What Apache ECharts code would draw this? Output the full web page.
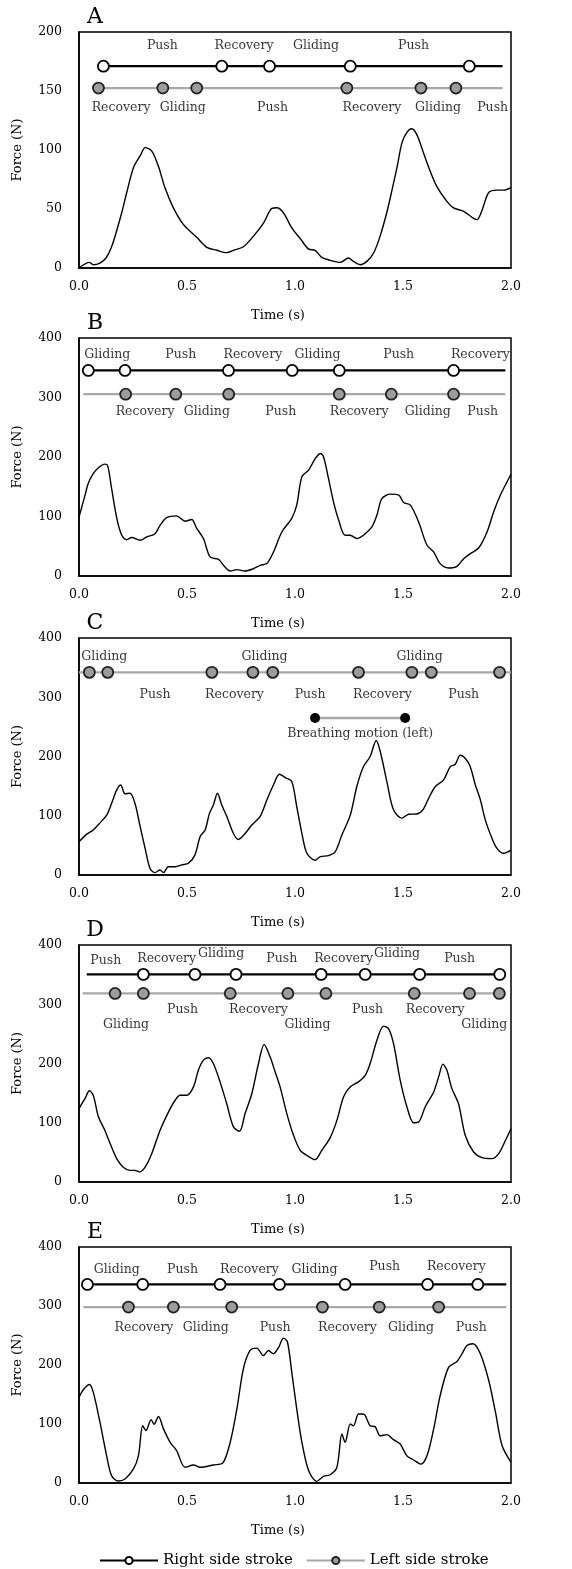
<!DOCTYPE html>
<html>
<head>
<meta charset="utf-8">
<script src="https://cdn.jsdelivr.net/npm/echarts@6/dist/echarts.min.js"></script>
<style>html,body{margin:0;padding:0;background:#fff}#main{width:572px;height:1569px}</style>
</head>
<body>
<div id="main"></div>
<script>
// ---- force traces: time (s) / force (N) ----
var tA = [0, 0.048, 0.066, 0.097, 0.125, 0.151, 0.175, 0.198, 0.221, 0.252, 0.283, 0.306, 0.337, 0.368, 0.398, 0.437, 0.483, 0.545, 0.592, 0.638, 0.684, 0.715, 0.761, 0.808, 0.854, 0.893, 0.916, 0.947, 0.985, 1.024, 1.063, 1.093, 1.124, 1.163, 1.209, 1.248, 1.271, 1.302, 1.333, 1.364, 1.394, 1.425, 1.449, 1.472, 1.495, 1.518, 1.541, 1.564, 1.595, 1.626, 1.657, 1.703, 1.734, 1.781, 1.827, 1.843, 1.866, 1.897, 1.935, 1.966, 2.0];
var fA = [0, 4.8, 2.8, 4.2, 8.5, 18, 32, 47, 64, 85, 95, 102, 99, 86, 68, 51, 37, 26, 17.5, 15, 13, 15, 18, 27, 38, 50.5, 51, 46.6, 34, 25, 16, 15, 9, 6.5, 4.8, 8.5, 5.6, 2.8, 5.6, 12.7, 27, 47, 66, 85, 106, 115, 118, 113, 97.5, 82, 69, 56.5, 51, 48, 42, 41, 49, 64, 66, 66, 68];

var tB = [0, 0.028, 0.043, 0.066, 0.090, 0.12, 0.133, 0.151, 0.175, 0.198, 0.221, 0.244, 0.283, 0.314, 0.352, 0.375, 0.406, 0.452, 0.491, 0.522, 0.545, 0.576, 0.607, 0.646, 0.669, 0.700, 0.731, 0.769, 0.808, 0.839, 0.87, 0.90, 0.939, 0.985, 1.008, 1.032, 1.063, 1.093, 1.117, 1.132, 1.155, 1.178, 1.202, 1.232, 1.256, 1.286, 1.317, 1.356, 1.379, 1.402, 1.441, 1.48, 1.503, 1.534, 1.572, 1.611, 1.642, 1.672, 1.711, 1.750, 1.781, 1.812, 1.850, 1.889, 1.920, 1.951, 2.0];
var fB = [99, 136, 156, 172, 182, 188, 185, 147, 97, 68.5, 61, 64.6, 60, 65.7, 71, 85, 98, 101, 92, 95, 80, 63, 32, 28, 18, 8.4, 10.7, 8.4, 12.4, 18, 21, 40, 74, 97, 119, 167, 178, 197, 206, 200.5, 164, 125, 94, 68.5, 68.5, 63, 68.5, 82.6, 102, 130, 137.6, 136, 123.6, 119, 91, 51.7, 40.4, 20.8, 13.5, 16.3, 29, 37.6, 47, 74, 108, 136, 171];

var tC = [0, 0.036, 0.066, 0.097, 0.128, 0.151, 0.175, 0.193, 0.213, 0.236, 0.259, 0.283, 0.306, 0.329, 0.352, 0.375, 0.391, 0.414, 0.445, 0.476, 0.507, 0.537, 0.561, 0.584, 0.604, 0.622, 0.641, 0.661, 0.684, 0.715, 0.738, 0.769, 0.800, 0.839, 0.87, 0.90, 0.928, 0.955, 0.985, 1.008, 1.032, 1.055, 1.093, 1.117, 1.155, 1.186, 1.217, 1.256, 1.286, 1.317, 1.348, 1.376, 1.395, 1.425, 1.456, 1.495, 1.526, 1.564, 1.592, 1.619, 1.649, 1.688, 1.719, 1.742, 1.765, 1.788, 1.811, 1.835, 1.858, 1.881, 1.912, 1.935, 1.966, 2.0];
var fC = [56, 69, 76, 88, 101, 121, 144, 152, 137, 138, 121, 82, 45, 11, 4, 8.5, 4, 14, 14, 17, 20, 34, 65, 76, 104, 118, 138, 118, 99, 70, 60, 70, 84.5, 99, 127, 152, 170, 164.5, 158, 115.5, 70, 36.6, 25, 31, 32.7, 39, 67.6, 101, 149, 183, 200, 227, 208, 158, 110, 96, 102.5, 103, 110, 129.6, 149, 160.6, 183, 187, 202, 197, 183, 152, 127, 93, 62, 45, 36.6, 42];

var tD = [0, 0.028, 0.048, 0.066, 0.090, 0.120, 0.144, 0.175, 0.205, 0.236, 0.259, 0.28, 0.306, 0.337, 0.375, 0.414, 0.445, 0.468, 0.499, 0.530, 0.553, 0.576, 0.599, 0.622, 0.653, 0.684, 0.715, 0.743, 0.769, 0.8, 0.831, 0.857, 0.885, 0.908, 0.931, 0.962, 0.993, 1.024, 1.055, 1.093, 1.124, 1.163, 1.194, 1.225, 1.256, 1.294, 1.325, 1.348, 1.379, 1.41, 1.433, 1.456, 1.487, 1.518, 1.549, 1.572, 1.603, 1.642, 1.665, 1.685, 1.703, 1.726, 1.757, 1.788, 1.827, 1.866, 1.912, 1.943, 1.974, 2.0];
var fD = [124, 141, 154, 146.5, 110, 87, 65, 39, 25, 19.7, 19.7, 17, 25, 48, 87, 118, 138, 146.5, 146.5, 160.6, 189, 205.6, 209.6, 200, 169, 132, 93, 85.6, 115.5, 149, 200, 232, 211, 186, 160.6, 115.5, 79, 53.5, 45, 37.7, 53.5, 75, 104, 143.7, 160.6, 169, 180, 200, 239, 263, 259, 234, 172, 127, 100, 101, 127, 152, 177.5, 199, 189, 158, 132, 79, 50.7, 41, 39.4, 48, 70, 90];

var tE = [0, 0.02, 0.048, 0.066, 0.097, 0.128, 0.151, 0.182, 0.213, 0.252, 0.275, 0.295, 0.31, 0.334, 0.347, 0.368, 0.391, 0.422, 0.452, 0.491, 0.53, 0.561, 0.622, 0.666, 0.70, 0.731, 0.761, 0.792, 0.823, 0.854, 0.877, 0.90, 0.924, 0.947, 0.965, 0.985, 1.008, 1.032, 1.063, 1.101, 1.132, 1.163, 1.194, 1.217, 1.232, 1.256, 1.271, 1.294, 1.317, 1.348, 1.371, 1.394, 1.425, 1.456, 1.487, 1.518, 1.549, 1.583, 1.611, 1.642, 1.672, 1.711, 1.750, 1.773, 1.796, 1.824, 1.858, 1.897, 1.928, 1.959, 2.0];
var fE = [145, 158, 167, 154, 103, 46, 12.4, 3.4, 6.8, 23.8, 46, 97, 89, 107.5, 99.6, 112.6, 91.7, 69, 55, 26.6, 30.6, 26.6, 30.6, 34, 69, 125.6, 193.5, 224.6, 228.6, 216, 224.6, 219, 230, 245.5, 239, 188, 125.6, 69, 21, 2.8, 11.3, 14, 26.6, 83, 69, 100, 97, 117, 117, 97, 95.6, 80, 82, 73.5, 66, 46, 39, 32, 46, 91.7, 148, 196, 206, 219, 233, 236, 219, 173.7, 120, 63, 35];

// ---- stroke events (s) ----
var rightA = [0.113, 0.661, 0.882, 1.256, 1.807];
var leftA = [0.09, 0.388, 0.545, 1.240, 1.583, 1.745];
var rightB = [0.043, 0.213, 0.692, 0.987, 1.205, 1.734];
var leftB = [0.216, 0.448, 0.693, 1.205, 1.446, 1.734];
var leftC = [0.048, 0.133, 0.615, 0.805, 0.897, 1.294, 1.541, 1.631, 1.947];
var breathC = [1.093, 1.510];
var rightD = [0.298, 0.537, 0.727, 1.121, 1.325, 1.577, 1.948];
var leftD = [0.167, 0.298, 0.70, 0.967, 1.143, 1.552, 1.808, 1.946];
var rightE = [0.039, 0.295, 0.653, 0.928, 1.232, 1.614, 1.846];
var leftE = [0.229, 0.437, 0.707, 1.127, 1.39, 1.665];

// ---- phase labels ----
var topA = ['Push', 'Recovery', 'Gliding', 'Push'];
var topAt = [0.386, 0.764, 1.097, 1.549];
var botA = ['Recovery', 'Gliding', 'Push', 'Recovery', 'Gliding', 'Push'];
var botAt = [0.195, 0.48, 0.896, 1.356, 1.662, 1.915];

var topB = ['Gliding', 'Push', 'Recovery', 'Gliding', 'Push', 'Recovery'];
var topBt = [0.131, 0.471, 0.805, 1.104, 1.480, 1.858];
var botB = ['Recovery', 'Gliding', 'Push', 'Recovery', 'Gliding', 'Push'];
var botBt = [0.306, 0.592, 0.934, 1.297, 1.615, 1.869];

var topC = ['Gliding', 'Gliding', 'Gliding'];
var topCt = [0.117, 0.859, 1.577];
var botC = ['Push', 'Recovery', 'Push', 'Recovery', 'Push'];
var botCt = [0.352, 0.72, 1.07, 1.405, 1.781];

var topD = ['Push', 'Recovery', 'Gliding', 'Push', 'Recovery', 'Gliding', 'Push'];
var topDt = [0.124, 0.406, 0.658, 0.939, 1.225, 1.472, 1.762];
var topDy = [373, 376, 386, 376, 376, 386, 376];
var botD = ['Gliding', 'Push', 'Recovery', 'Gliding', 'Push', 'Recovery', 'Gliding'];
var botDt = [0.218, 0.479, 0.831, 1.058, 1.336, 1.649, 1.876];
var botDy = [266, 290, 290, 266, 290, 290, 266];

var topE = ['Gliding', 'Push', 'Recovery', 'Gliding', 'Push', 'Recovery'];
var topEt = [0.175, 0.479, 0.789, 1.09, 1.415, 1.747];
var topEy = [362, 362, 362, 362, 366, 367];
var botE = ['Recovery', 'Gliding', 'Push', 'Recovery', 'Gliding', 'Push'];
var botEt = [0.301, 0.587, 0.908, 1.243, 1.537, 1.816];

var font = 'DejaVu Serif';
var panels = [
  {letter: 'A', t: tA, f: fA, ymax: 200, yint: 50, top: 32, h: 236,
   right: {y: 171, ends: [0.113, 1.961], dots: rightA}, left: {y: 152.5, ends: [0.09, 1.961], dots: leftA},
   labels: [[topA, topAt, 188.5], [botA, botAt, 136]]},
  {letter: 'B', t: tB, f: fB, ymax: 400, yint: 100, top: 338, h: 238,
   right: {y: 345.5, ends: [0.043, 1.974], dots: rightB}, left: {y: 305.6, ends: [0.02, 1.974], dots: leftB},
   labels: [[topB, topBt, 372], [botB, botBt, 276]]},
  {letter: 'C', t: tC, f: fC, ymax: 400, yint: 100, top: 638, h: 237,
   right: null, left: {y: 342, ends: [0, 2], dots: leftC},
   labels: [[topC, topCt, 369], [botC, botCt, 304], [['Breathing motion (left)'], [1.302], 238]]},
  {letter: 'D', t: tD, f: fD, ymax: 400, yint: 100, top: 945, h: 237,
   right: {y: 350.4, ends: [0.036, 1.948], dots: rightD}, left: {y: 318.3, ends: [0.017, 1.974], dots: leftD},
   labels: [[topD, topDt, topDy], [botD, botDt, botDy]]},
  {letter: 'E', t: tE, f: fE, ymax: 400, yint: 100, top: 1247, h: 236,
   right: {y: 336.6, ends: [0.039, 1.978], dots: rightE}, left: {y: 298.2, ends: [0.02, 1.978], dots: leftE},
   labels: [[topE, topEt, topEy], [botE, botEt, 262.5]]}
];

function pairs(t, f) { return t.map(function (x, k) { return [x, f[k]]; }); }

function strokeSeries(name, i, s, fill, border, lineColor) {
  var data = [];
  if (s.ends[0] < s.dots[0]) data.push({value: [s.ends[0], s.y], symbol: 'none'});
  s.dots.forEach(function (d) { data.push({value: [d, s.y]}); });
  if (s.ends[1] > s.dots[s.dots.length - 1]) data.push({value: [s.ends[1], s.y], symbol: 'none'});
  return {
    type: 'line', name: name, xAxisIndex: i, yAxisIndex: i, data: data,
    symbol: 'circle', symbolSize: 11, showSymbol: true, silent: true, z: 3,
    lineStyle: {color: lineColor, width: 2.3},
    itemStyle: {color: fill, borderColor: border, borderWidth: 1.8}
  };
}

function labelSeries(i, names, ts, ys) {
  return {
    type: 'scatter', xAxisIndex: i, yAxisIndex: i, symbolSize: 1, silent: true, z: 4,
    itemStyle: {color: 'transparent'},
    label: {show: true, position: 'inside', formatter: '{b}', fontFamily: font, fontSize: 12.5, color: '#000'},
    data: names.map(function (n, k) { return {name: n, value: [ts[k], Array.isArray(ys) ? ys[k] : ys]}; })
  };
}

var grids = [], xAxes = [], yAxes = [], series = [], graphics = [];
panels.forEach(function (p, i) {
  grids.push({left: 79, width: 432, top: p.top, height: p.h, show: true, borderColor: '#000', borderWidth: 1.5});
  xAxes.push({
    type: 'value', gridIndex: i, min: 0, max: 2, interval: 0.5,
    name: 'Time (s)', nameLocation: 'middle', nameGap: 41,
    nameTextStyle: {fontFamily: font, fontSize: 13, color: '#000', padding: [0, 34, 0, 0]},
    axisLine: {show: true, onZero: false, lineStyle: {color: '#000', width: 1.5}},
    axisTick: {show: false}, splitLine: {show: false},
    axisLabel: {fontFamily: font, fontSize: 12.5, color: '#000', margin: 12, formatter: function (v) { return v.toFixed(1); }}
  });
  yAxes.push({
    type: 'value', gridIndex: i, min: 0, max: p.ymax, interval: p.yint,
    name: 'Force (N)', nameLocation: 'middle', nameGap: 55,
    nameTextStyle: {fontFamily: font, fontSize: 13, color: '#000'},
    axisLine: {show: true, onZero: false, lineStyle: {color: '#000', width: 1.5}},
    axisTick: {show: false}, splitLine: {show: false},
    axisLabel: {fontFamily: font, fontSize: 12.5, color: '#000', margin: 17}
  });
  series.push({
    type: 'line', name: 'Force', xAxisIndex: i, yAxisIndex: i, data: pairs(p.t, p.f),
    smooth: 0.3, showSymbol: false, silent: true, z: 2,
    lineStyle: {color: '#000', width: 1.4}
  });
  if (p.right) series.push(strokeSeries('Right side stroke', i, p.right, '#fff', '#000', '#000'));
  series.push(strokeSeries('Left side stroke', i, p.left, '#9c9c9c', '#222', '#a8a8a8'));
  if (p.letter === 'C') {
    series.push({
      type: 'line', name: 'Breathing motion (left)', xAxisIndex: i, yAxisIndex: i,
      data: breathC.map(function (t) { return [t, 265]; }),
      symbol: 'circle', symbolSize: 10, silent: true, z: 3,
      lineStyle: {color: '#a8a8a8', width: 2.3}, itemStyle: {color: '#000'}
    });
  }
  p.labels.forEach(function (l) { series.push(labelSeries(i, l[0], l[1], l[2])); });
  graphics.push({
    type: 'text', x: 95, y: p.top - 15,
    style: {text: p.letter, fontFamily: font, fontSize: 22, fill: '#000', align: 'center', verticalAlign: 'middle'}
  });
});

var chart = echarts.init(document.getElementById('main'));
chart.setOption({
  animation: false,
  backgroundColor: '#fff',
  grid: grids,
  xAxis: xAxes,
  yAxis: yAxes,
  graphic: graphics,
  legend: {
    data: ['Right side stroke', 'Left side stroke'], left: 99, top: 1553, padding: 0,
    itemWidth: 58, itemHeight: 9, itemGap: 13, selectedMode: false,
    textStyle: {fontFamily: font, fontSize: 15, color: '#000'}
  },
  series: series
});
</script>
</body>
</html>
